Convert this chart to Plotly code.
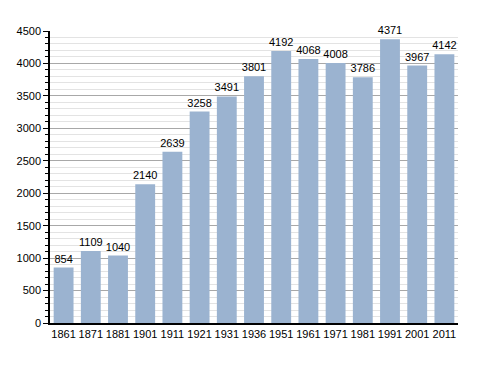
import plotly.graph_objects as go

years = ["1861", "1871", "1881", "1901", "1911", "1921", "1931", "1936",
         "1951", "1961", "1971", "1981", "1991", "2001", "2011"]
population = [854, 1109, 1040, 2140, 2639, 3258, 3491, 3801,
              4192, 4068, 4008, 3786, 4371, 3967, 4142]
y_ticks = [0, 500, 1000, 1500, 2000, 2500, 3000, 3500, 4000, 4500]

fig = go.Figure(go.Bar(
    x=years, y=population,
    text=[str(v) for v in population],
    textposition="outside",
    constraintext="none",
    textfont=dict(family="Liberation Sans, Arial", size=11, color="#000000"),
    cliponaxis=False,
    marker=dict(color="#9bb3d0", line=dict(width=0)),
))

# page body adds an 8px offset, so margins are compensated
fig.update_layout(
    width=480, height=365,
    margin=dict(l=42, r=30, t=23, b=50),
    paper_bgcolor="white", plot_bgcolor="white",
    bargap=0.27,
    showlegend=False,
    font=dict(family="Liberation Sans, Arial", size=11, color="#000000"),
)
fig.update_xaxes(
    type="category", automargin=False,
    showline=True, linecolor="#000000", linewidth=1.5,
    ticks="", showgrid=False,
    tickfont=dict(size=11),
)
fig.update_yaxes(
    range=[0, 4500], automargin=False,
    tickvals=y_ticks,
    showline=True, linecolor="#000000", linewidth=1.5,
    ticks="outside", ticklen=5, tickcolor="#000000",
    showgrid=True, gridcolor="#a8a8a8", gridwidth=1,
    zeroline=False,
    minor=dict(dtick=100, showgrid=True, gridcolor="#e3e3e3",
               ticks="outside", ticklen=3, tickcolor="#000000"),
    tickfont=dict(size=11),
)

fig.write_html("out.html")
